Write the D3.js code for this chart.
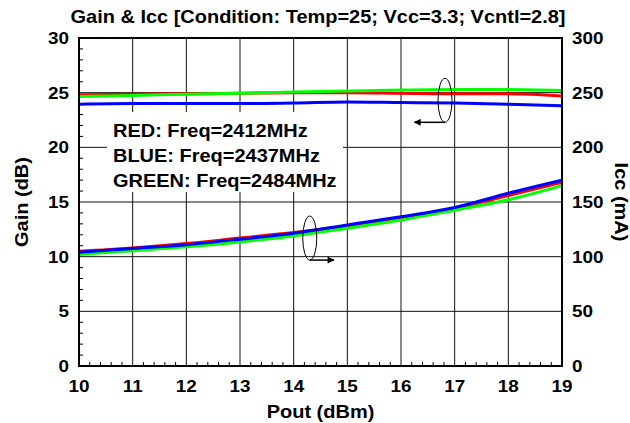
<!DOCTYPE html>
<html>
<meta charset="utf-8" />
<script src="https://cdn.jsdelivr.net/npm/d3@7"></script>
<style>
  html, body { margin: 0; padding: 0; background: #fff; }
  svg text { font-family: "Liberation Sans", Arial, sans-serif; font-weight: bold; fill: #000; }
  .tick-label { font-size: 17px; }
  .axis-title { font-size: 18px; }
  .title { font-size: 18px; }
  .legend { font-size: 18px; }
</style>
<body>
<div id="chart"></div>
<script>
// Pout (dBm)
var pout = [10, 11, 12, 13, 14, 15, 16, 17, 18, 19];

// Gain (dB), left axis
var gainRed   = [24.8, 24.85, 24.9, 24.95, 25.0, 25.0, 24.95, 24.9, 24.9, 24.7];
var gainBlue  = [23.95, 24.0, 24.0, 24.0, 24.05, 24.15, 24.1, 24.05, 23.95, 23.8];
var gainGreen = [24.65, 24.75, 24.85, 24.95, 25.05, 25.15, 25.25, 25.3, 25.3, 25.2];

// Icc (mA), right axis
var iccRed   = [105, 108, 112, 117, 122, 128, 135, 144, 156, 168];
var iccBlue  = [104, 107.5, 111, 116, 121.5, 129, 136.5, 145, 158, 170];
var iccGreen = [102, 105.5, 109, 113.5, 119, 126, 133.5, 142.5, 152, 165];

var xTicks = [10, 11, 12, 13, 14, 15, 16, 17, 18, 19];
var gainTicks = [0, 5, 10, 15, 20, 25, 30];
var iccTicks = [0, 50, 100, 150, 200, 250, 300];

var legendLines = ['RED: Freq=2412MHz', 'BLUE: Freq=2437MHz', 'GREEN: Freq=2484MHz'];
var titleText = 'Gain & Icc [Condition: Temp=25; Vcc=3.3; Vcntl=2.8]';

var W = 630, H = 423;
var margin = { top: 38, right: 68, bottom: 57, left: 79 };
var width = W - margin.left - margin.right;
var height = H - margin.top - margin.bottom;
var sx = 1.11; // the source text is a bit wider than Arial

var svg = d3.select('#chart').append('svg')
  .attr('width', W).attr('height', H);

var g = svg.append('g').attr('transform', 'translate(' + margin.left + ',' + margin.top + ')');

var x = d3.scaleLinear().domain([10, 19]).range([0, width]);
var yL = d3.scaleLinear().domain([0, 30]).range([height, 0]);
var yR = d3.scaleLinear().domain([0, 300]).range([height, 0]);

function label(parent, px, py, str, cls, anchor, rot, dy) {
  return parent.append('text')
    .attr('class', cls)
    .attr('text-anchor', anchor)
    .attr('dy', dy || 0)
    .attr('transform', 'translate(' + px + ',' + py + ')' + (rot ? ' rotate(' + rot + ')' : '') + ' scale(' + sx + ',1)')
    .text(str);
}

// grid
g.append('g').selectAll('line').data(xTicks.slice(1, -1)).enter().append('line')
  .attr('x1', d => x(d)).attr('x2', d => x(d))
  .attr('y1', 0).attr('y2', height)
  .attr('stroke', '#111').attr('stroke-width', 1);
g.append('g').selectAll('line').data(gainTicks.slice(1, -1)).enter().append('line')
  .attr('x1', 0).attr('x2', width)
  .attr('y1', d => yL(d)).attr('y2', d => yL(d))
  .attr('stroke', '#111').attr('stroke-width', 1);

// minor ticks
g.append('g').selectAll('line').data(d3.range(0, 30, 1).filter(d => d % 5 !== 0)).enter().append('line')
  .attr('x1', 0).attr('x2', 4)
  .attr('y1', d => yL(d)).attr('y2', d => yL(d))
  .attr('stroke', '#000').attr('stroke-width', 1);
g.append('g').selectAll('line').data(d3.range(0, 45).map(i => 10 + i * 0.2).filter((d, i) => i % 5 !== 0)).enter().append('line')
  .attr('x1', d => x(d)).attr('x2', d => x(d))
  .attr('y1', height).attr('y2', height - 4)
  .attr('stroke', '#000').attr('stroke-width', 1);

// legend box
var lg = g.append('g');
lg.append('rect')
  .attr('x', 28).attr('y', 74).attr('width', 236).attr('height', 80)
  .attr('fill', '#fff');
legendLines.forEach(function (t, i) {
  label(lg, 34, 99 + i * 25, t, 'legend', 'start');
});

// lines
var gainLine = d3.line().x((d, i) => x(pout[i])).y(d => yL(d)).curve(d3.curveMonotoneX);
var iccLine = d3.line().x((d, i) => x(pout[i])).y(d => yR(d)).curve(d3.curveMonotoneX);

var series = [
  { gain: gainRed, icc: iccRed, color: '#ff0000' },
  { gain: gainBlue, icc: iccBlue, color: '#0000ff' },
  { gain: gainGreen, icc: iccGreen, color: '#00ff00' }
];
series.forEach(function (s) {
  g.append('path').attr('d', gainLine(s.gain))
    .attr('fill', 'none').attr('stroke', s.color).attr('stroke-width', 3);
});
[series[0], series[2], series[1]].forEach(function (s) {
  g.append('path').attr('d', iccLine(s.icc))
    .attr('fill', 'none').attr('stroke', s.color).attr('stroke-width', 3);
});

// annotations
svg.append('defs').append('marker')
  .attr('id', 'arr').attr('viewBox', '0 0 10 10').attr('refX', 9).attr('refY', 5)
  .attr('markerWidth', 7).attr('markerHeight', 5).attr('orient', 'auto')
  .attr('markerUnits', 'userSpaceOnUse')
  .attr('markerWidth', 11).attr('markerHeight', 7)
  .append('path').attr('d', 'M0,0L10,5L0,10z').attr('fill', '#000');

function note(cx, cy, toX) {
  var px = x(cx), py = yL(cy);
  g.append('ellipse').attr('cx', px).attr('cy', py).attr('rx', 7).attr('ry', 22)
    .attr('fill', 'none').attr('stroke', '#000').attr('stroke-width', 1);
  g.append('line').attr('x1', px).attr('y1', py + 22).attr('x2', x(toX)).attr('y2', py + 22)
    .attr('stroke', '#000').attr('stroke-width', 1.5).attr('marker-end', 'url(#arr)');
}
note(16.82, 24.3, 16.25);
note(14.3, 11.7, 14.75);

// frame
g.append('rect').attr('x', 0).attr('y', 0).attr('width', width).attr('height', height)
  .attr('fill', 'none').attr('stroke', '#000').attr('stroke-width', 2);

// tick labels
gainTicks.forEach(function (d) {
  label(g, -10, yL(d), d, 'tick-label', 'end', 0, '0.36em');
});
iccTicks.forEach(function (d) {
  label(g, width + 10, yR(d), d, 'tick-label', 'start', 0, '0.36em');
});
xTicks.forEach(function (d) {
  label(g, x(d), height + 26, d, 'tick-label', 'middle');
});

// titles
label(svg, 318, 23, titleText, 'title', 'middle');
label(svg, margin.left + width / 2, 418, 'Pout (dBm)', 'axis-title', 'middle');
label(svg, 28, margin.top + height / 2, 'Gain (dB)', 'axis-title', 'middle', -90);
label(svg, 615, margin.top + height / 2, 'Icc (mA)', 'axis-title', 'middle', 90);
</script>
</body>
</html>
